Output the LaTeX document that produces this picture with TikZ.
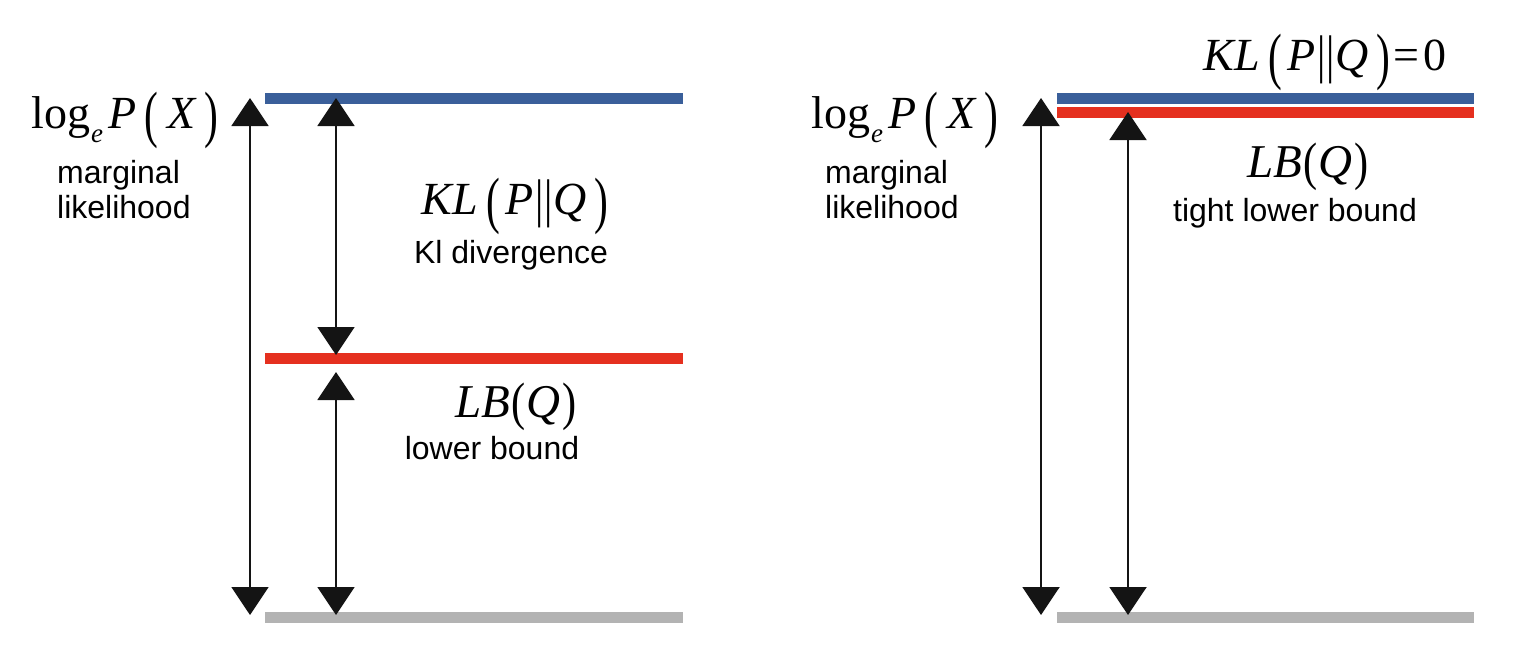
\documentclass[tikz,border=0pt]{standalone}
\usepackage{fontspec}
\usepackage{graphicx}
\setmainfont{Liberation Sans}
\newfontfamily\mserif{Liberation Serif}
\usetikzlibrary{arrows.meta}
\definecolor{barblue}{HTML}{3A5F9A}
\definecolor{barred}{HTML}{E5301F}
\definecolor{bargray}{HTML}{B3B3B3}
\definecolor{arrowblack}{HTML}{141414}
\newcommand\tallp[1]{\raisebox{-0.16em}{\scalebox{0.9}[1.36]{#1}}}
\newcommand\midp[1]{\raisebox{-0.06em}{\scalebox{0.9}[1.12]{#1}}}
\newcommand\dbar{\raisebox{-0.06em}{\scalebox{0.9}[1.15]{|\kern0.01em|}}}
\tikzset{
  bar/.style={line width=11pt},
  dimarrow/.style={draw=arrowblack, line width=2pt,
    {Triangle[width=37pt,length=28pt]}-{Triangle[width=37pt,length=28pt]}, fill=arrowblack},
  mathlbl/.style={inner sep=0pt, anchor=base, font=\mserif\fontsize{46}{50}\selectfont},
  mathlblbig/.style={inner sep=0pt, anchor=base, font=\mserif\fontsize{47}{52}\selectfont},
  sanslbl/.style={inner sep=0pt, font=\fontsize{32}{35}\selectfont},
}
\begin{document}
\begin{tikzpicture}[x=1pt,y=-1pt]
\useasboundingbox (0,0) rectangle (1533,667);
% ---------- left panel ----------
\coordinate (Lb1) at (265,98.5);
\coordinate (Lb2) at (683,98.5);
\coordinate (Lr1) at (265,358);
\coordinate (Lr2) at (683,358);
\coordinate (Lg1) at (265,617);
\coordinate (Lg2) at (683,617);
\draw[bar, barblue] (Lb1) -- (Lb2);
\draw[bar, barred] (Lr1) -- (Lr2);
\draw[bar, bargray] (Lg1) -- (Lg2);
\coordinate (La1) at (250,98);
\coordinate (La2) at (250,615);
\coordinate (Lk1) at (336,98);
\coordinate (Lk2) at (336,355);
\coordinate (Ll1) at (336,372);
\coordinate (Ll2) at (336,615);
\draw[dimarrow] (La1) -- (La2);
\draw[dimarrow] (Lk1) -- (Lk2);
\draw[dimarrow] (Ll1) -- (Ll2);
\node[mathlbl] (Llog) at (125,128) {log\kern0.02em\raisebox{-0.32em}{\fontsize{27}{27}\selectfont\itshape e}\kern0.12em\textit{P}\kern0.18em\tallp{(}\kern0.18em\textit{X}\kern0.18em\tallp{)}};
\node[sanslbl, anchor=north west, align=left] (Lml) at (57,160) {marginal\\likelihood};
\node[mathlbl] (Lkl) at (515,214) {\textit{KL}\kern0.18em\tallp{(}\kern0.12em\textit{P}\kern0.04em\dbar\kern0.02em\textit{Q}\kern0.16em\tallp{)}};
\node[sanslbl, anchor=base] (Lkld) at (511,263) {Kl divergence};
\node[mathlblbig] (Llb) at (516,417) {\textit{LB}\kern0.03em\midp{(}\kern0.02em\textit{Q}\kern0.03em\midp{)}};
\node[sanslbl, anchor=base] (Llbt) at (492,459) {lower bound};
% ---------- right panel ----------
\coordinate (Rb1) at (1057,98.5);
\coordinate (Rb2) at (1474,98.5);
\coordinate (Rr1) at (1057,112.5);
\coordinate (Rr2) at (1474,112.5);
\coordinate (Rg1) at (1057,617);
\coordinate (Rg2) at (1474,617);
\draw[bar, barblue] (Rb1) -- (Rb2);
\draw[bar, barred] (Rr1) -- (Rr2);
\draw[bar, bargray] (Rg1) -- (Rg2);
\coordinate (Ra1) at (1041,98);
\coordinate (Ra2) at (1041,615);
\coordinate (Rl1) at (1128,112);
\coordinate (Rl2) at (1128,615);
\draw[dimarrow] (Ra1) -- (Ra2);
\draw[dimarrow] (Rl1) -- (Rl2);
\node[mathlbl] (Rlog) at (905,128) {log\kern0.02em\raisebox{-0.32em}{\fontsize{27}{27}\selectfont\itshape e}\kern0.12em\textit{P}\kern0.18em\tallp{(}\kern0.18em\textit{X}\kern0.18em\tallp{)}};
\node[sanslbl, anchor=north west, align=left] (Rml) at (825,160) {marginal\\likelihood};
\node[mathlbl] (Rkl) at (1325,70) {\textit{KL}\kern0.18em\tallp{(}\kern0.12em\textit{P}\kern0.04em\dbar\kern0.02em\textit{Q}\kern0.16em\tallp{)}\kern0.08em=\kern0.08em0};
\node[mathlblbig] (Rlb) at (1308,177) {\textit{LB}\kern0.03em\midp{(}\kern0.02em\textit{Q}\kern0.03em\midp{)}};
\node[sanslbl, anchor=base] (Rlbt) at (1295,221) {tight lower bound};
\end{tikzpicture}
\end{document}
